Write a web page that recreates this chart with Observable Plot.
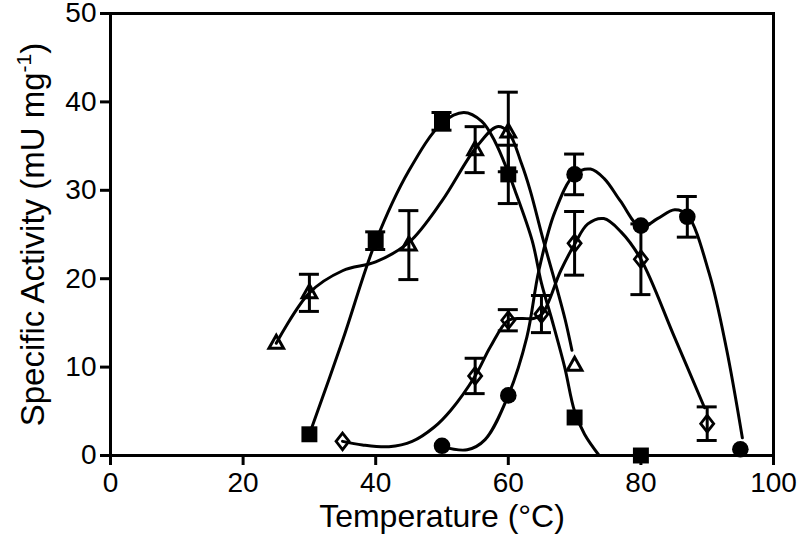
<!DOCTYPE html>
<html><head><meta charset="utf-8">
<script src="https://cdn.jsdelivr.net/npm/d3@7"></script>
<script src="https://cdn.jsdelivr.net/npm/@observablehq/plot@0.6"></script>
<style>
html,body{margin:0;padding:0;background:#fff;}
#chart svg [aria-label$="tick"] path, #chart svg [aria-label$="axis"] .tick line {stroke-width:3px;}
</style></head><body><div id="chart"></div>
<script>
// Axis ticks
const xTicks = [0, 20, 40, 60, 80, 100];
const yTicks = [0, 10, 20, 30, 40, 50];
const xLabel = "Temperature (°C)";
const yLabel = "Specific Activity (mU mg-1)";

// Measured points (open triangles)
const triX = [25, 30, 45, 55, 60, 70];
const triY = [12.7, 18.4, 23.8, 34.6, 36.6, 10.2];
const triErr = [0, 2.1, 3.9, 2.6, 4.5, 0];
// Filled squares
const sqX = [30, 40, 50, 60, 70, 80];
const sqY = [2.4, 24.3, 37.8, 31.8, 4.3, 0];
const sqErr = [0, 1.0, 1.0, 3.3, 0, 0];
// Filled circles
const cirX = [50, 60, 70, 80, 87, 95];
const cirY = [1.1, 6.8, 31.8, 26.0, 27.0, 0.7];
const cirErr = [0, 0, 2.3, 0, 2.3, 0];
// Open diamonds
const diaX = [35, 55, 60, 65, 70, 80, 90];
const diaY = [1.6, 9.0, 15.3, 16.0, 24.0, 22.2, 3.6];
const diaErr = [0, 2.0, 1.2, 2.1, 3.6, 4.0, 1.9];

// Fitted curves
const triFitX = [25, 30, 35, 40, 45, 50, 55, 58.3, 60, 62, 63.3, 65.3, 67.4, 68.6, 69.6];
const triFitY = [12.7, 18.4, 20.9, 21.9, 24.1, 28.8, 34.7, 37.2, 36.6, 33, 30, 24.3, 18.7, 15.3, 11.9];
const sqFitX = [30, 35, 40, 45, 50, 53.3, 56, 58, 60, 61, 63.6, 65, 66.6, 68.5, 70, 71.5, 73.7];
const sqFitY = [2.4, 13, 24.2, 32.2, 37.6, 38.8, 37.8, 35.5, 32, 30, 24.3, 19.5, 15.3, 10, 5, 2.4, 0];
const cirFitX = [50, 53.8, 56.5, 60, 62.8, 64.6, 67, 70, 72.4, 74.5, 76.9, 80, 82.5, 85.1, 87, 90.3, 92.9, 95.3];
const cirFitY = [1.0, 0.65, 1.8, 6.8, 13.4, 20.9, 27.5, 31.8, 32.4, 31.3, 28.8, 25.8, 26.8, 27.8, 27.2, 20.6, 12.1, 2.0];
const diaFitX = [35, 38, 42, 45.5, 48.8, 51.3, 55, 57.3, 60, 62, 63.8, 65.1, 67.9, 70, 72, 74.4, 77, 80, 85, 89.6];
const diaFitY = [1.6, 1.2, 1.0, 1.6, 3.2, 5.1, 9.0, 12.3, 15.3, 15.5, 15.5, 16.0, 20.9, 23.9, 26.2, 26.8, 25.3, 22.2, 13.5, 5.4];

const pts = (xs, ys, es) => xs.map((x, i) => ({x, y: ys[i], e: es ? es[i] : 0}));
const tri = pts(triX, triY, triErr), sq = pts(sqX, sqY, sqErr), cir = pts(cirX, cirY, cirErr), dia = pts(diaX, diaY, diaErr);
const errs = [...tri, ...sq, ...cir, ...dia].filter(d => d.e > 0);
const fits = [pts(triFitX, triFitY), pts(sqFitX, sqFitY), pts(cirFitX, cirFitY), pts(diaFitX, diaFitY)];

const diamondSym = {draw(ctx) { ctx.moveTo(0, -8.3); ctx.lineTo(6.5, 0); ctx.lineTo(0, 8.3); ctx.lineTo(-6.5, 0); ctx.closePath(); }};
const triSym = {draw(ctx) { ctx.moveTo(0, -8); ctx.lineTo(7.3, 5); ctx.lineTo(-7.3, 5); ctx.closePath(); }};

const chart = Plot.plot({
  width: 800, height: 541,
  marginLeft: 110, marginRight: 27, marginTop: 13, marginBottom: 86,
  style: {fontFamily: "'Liberation Sans', Arial, sans-serif", fontSize: "28px", color: "black", background: "white", overflow: "visible"},
  x: {domain: [0, 100], ticks: xTicks, tickSize: 10, tickPadding: 7, label: null},
  y: {domain: [0, 50], ticks: yTicks, tickSize: 10, tickPadding: 4, label: null},
  marks: [
    ...fits.map(f => Plot.line(f, {x: "x", y: "y", curve: "catmull-rom", stroke: "black", strokeWidth: 3})),
    Plot.ruleX(errs, {x: "x", y1: d => d.y - d.e, y2: d => d.y + d.e, stroke: "black", strokeWidth: 3}),
    Plot.ruleY(errs, {y: d => d.y + d.e, x1: "x", x2: "x", insetLeft: -10, insetRight: -10, stroke: "black", strokeWidth: 3}),
    Plot.ruleY(errs, {y: d => d.y - d.e, x1: "x", x2: "x", insetLeft: -10, insetRight: -10, stroke: "black", strokeWidth: 3}),
    Plot.dot(sq, {x: "x", y: "y", symbol: "square", r: 9, fill: "black", stroke: "none"}),
    Plot.dot(cir, {x: "x", y: "y", symbol: "circle", r: 8.3, fill: "black", stroke: "none"}),
    Plot.dot(tri, {x: "x", y: "y", symbol: triSym, r: 6, fill: "none", stroke: "black", strokeWidth: 3}),
    Plot.dot(dia, {x: "x", y: "y", symbol: diamondSym, r: 6, fill: "none", stroke: "black", strokeWidth: 2.8}),
    Plot.frame({stroke: "black", strokeWidth: 3}),
    Plot.text([xLabel], {text: d => d, frameAnchor: "bottom", dy: 71, fontSize: 32, fill: "black"}),
    Plot.text([yLabel], {text: d => d, frameAnchor: "left", rotate: -90, dx: -77, dy: 0, fontSize: 33, fill: "black"})
  ]
});
document.getElementById("chart").appendChild(chart);

// superscript for the unit
d3.select(chart).selectAll("text").filter(function() { return this.textContent === yLabel; }).each(function() {
  const t = d3.select(this);
  t.attr("text-anchor", "middle");
  t.text("Specific Activity (mU mg");
  t.append("tspan").attr("font-size", 21).attr("dy", -13).text("-1");
  t.append("tspan").attr("font-size", 33).attr("dy", 13).text(")");
});
</script></body></html>
